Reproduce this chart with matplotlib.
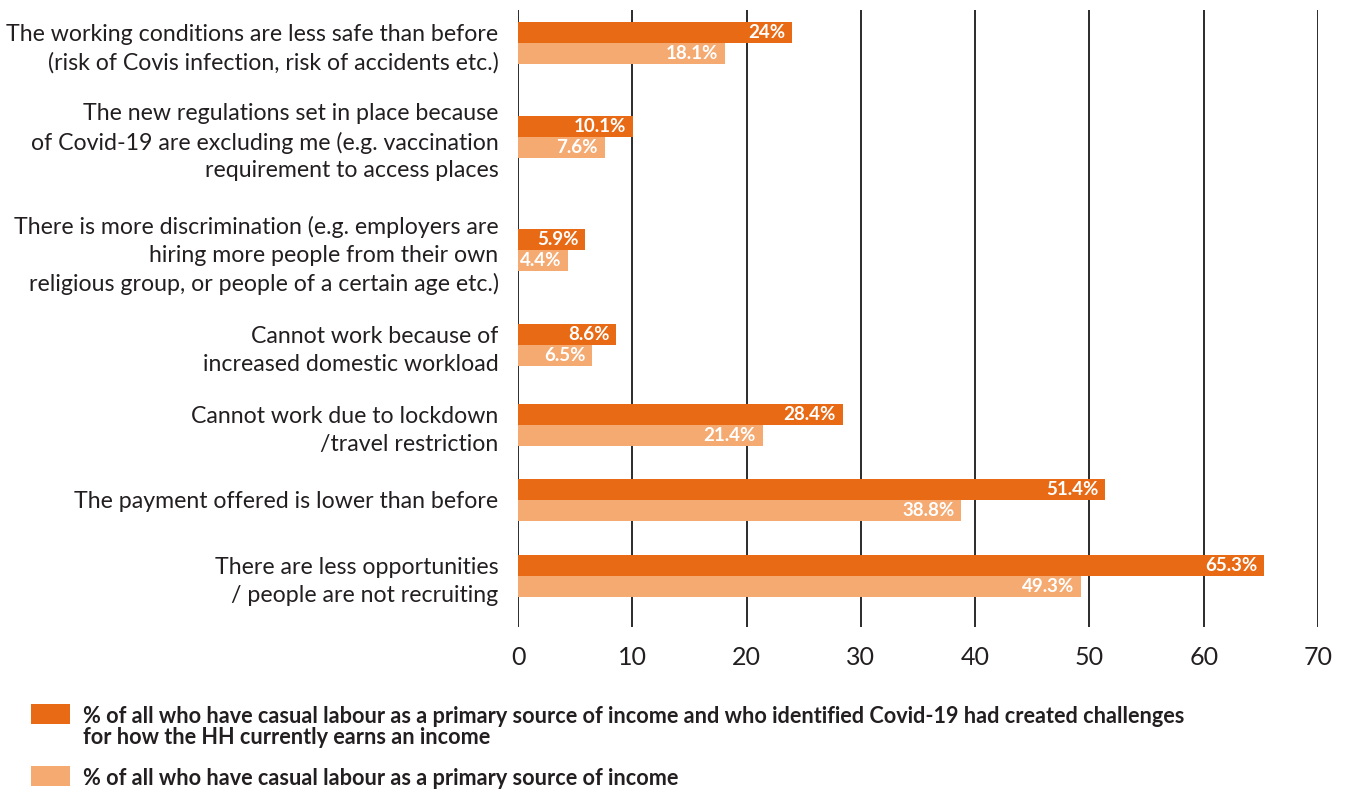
import matplotlib
matplotlib.use("Agg")
import matplotlib.pyplot as plt
from matplotlib.patches import Rectangle

# ---- data ----
categories = [
    "The working conditions are less safe than before\n(risk of Covis infection, risk of accidents etc.)",
    "The new regulations set in place because\nof Covid-19 are excluding me (e.g. vaccination\nrequirement to access places",
    "There is more discrimination (e.g. employers are\nhiring more people from their own\nreligious group, or people of a certain age etc.)",
    "Cannot work because of\nincreased domestic workload",
    "Cannot work due to lockdown\n/travel restriction",
    "The payment offered is lower than before",
    "There are less opportunities\n/ people are not recruiting",
]
challenged = [24, 10.1, 5.9, 8.6, 28.4, 51.4, 65.3]
all_casual = [18.1, 7.6, 4.4, 6.5, 21.4, 38.8, 49.3]
challenged_labels = ["24%", "10.1%", "5.9%", "8.6%", "28.4%", "51.4%", "65.3%"]
all_casual_labels = ["18.1%", "7.6%", "4.4%", "6.5%", "21.4%", "38.8%", "49.3%"]
series_names = [
    "% of all who have casual labour as a primary source of income and who identified Covid-19 had created challenges\nfor how the HH currently earns an income",
    "% of all who have casual labour as a primary source of income",
]
x_ticks = [0, 10, 20, 30, 40, 50, 60, 70]

# ---- style ----
DARK = "#E96A15"
LIGHT = "#F5AA72"
TEXT = "#231F20"
plt.rcParams["font.family"] = ["Lato", "DejaVu Sans"]

# vertical centre of each category group (axis units, top = 0)
group_centres = [0.33, 1.27, 2.40, 3.35, 4.15, 4.90, 5.66]
bar_h = 0.21

fig = plt.figure(figsize=(13.46, 7.89), dpi=100)
ax = fig.add_axes([518 / 1346, 1 - 627 / 789, 800 / 1346, 617 / 789])

top = [c - bar_h / 2 for c in group_centres]
bottom = [c + bar_h / 2 for c in group_centres]
b1 = ax.barh(top, challenged, height=bar_h, color=DARK, zorder=3)
b2 = ax.barh(bottom, all_casual, height=bar_h, color=LIGHT, zorder=3)

ax.bar_label(b1, labels=challenged_labels, padding=-5, color="white",
             fontsize=13.5, fontweight="bold", zorder=4)
ax.bar_label(b2, labels=all_casual_labels, padding=-5, color="white",
             fontsize=13.5, fontweight="bold", zorder=4)
for t in ax.texts:
    t.set_horizontalalignment("right")

ax.set_xlim(0, 70)
ax.set_ylim(6.17, 0)
ax.set_xticks(x_ticks)
ax.set_xticklabels([str(v) for v in x_ticks], fontsize=18, color=TEXT)
ax.tick_params(axis="x", length=0, pad=14)
ax.set_yticks(group_centres)
ax.set_yticklabels(categories, fontsize=16.7, color=TEXT, linespacing=1.4,
                   ha="right", multialignment="right")
ax.tick_params(axis="y", length=0, pad=14)

for s in ax.spines.values():
    s.set_visible(False)
ax.grid(axis="x", color="#1a1a1a", linewidth=1.3, zorder=0)

# ---- legend ----
fig_w, fig_h = 1346, 789
for (y_top, color, label) in [(704, DARK, series_names[0]), (766, LIGHT, series_names[1])]:
    fig.add_artist(Rectangle((31 / fig_w, 1 - (y_top + 20) / fig_h), 39 / fig_w, 20 / fig_h,
                             transform=fig.transFigure, facecolor=color, edgecolor="none"))
    fig.text(83 / fig_w, 1 - (y_top + 2) / fig_h, label, ha="left", va="top",
             fontsize=15.6, fontweight="bold", color=TEXT, linespacing=1.0)

fig.savefig("out.png", dpi=100, facecolor="white")
